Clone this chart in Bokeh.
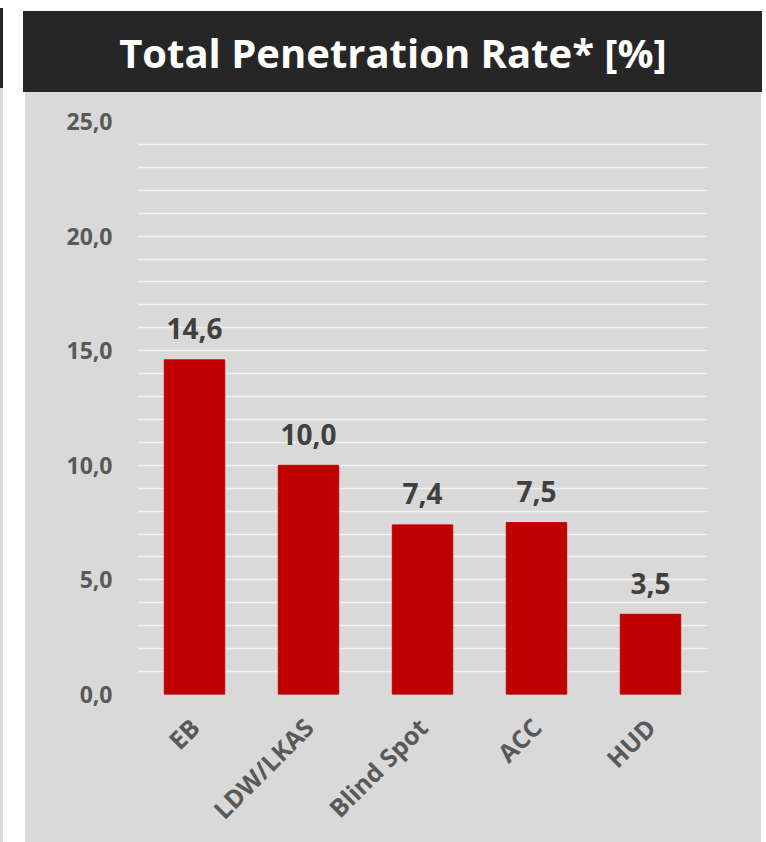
import math
from bokeh.plotting import figure
from bokeh.models import ColumnDataSource, FixedTicker, Range1d, Div
from bokeh.layouts import row, column
from bokeh.core.properties import value
from bokeh.embed import file_html
from bokeh.resources import INLINE

# ---- data ----
title_text = "Total Penetration Rate* [%]"
categories = ["EB", "LDW/LKAS", "Blind Spot", "ACC", "HUD"]
values = [14.6, 10.0, 7.4, 7.5, 3.5]
value_labels = ["14,6", "10,0", "7,4", "7,5", "3,5"]
y_ticks = [0, 5, 10, 15, 20, 25]
y_tick_labels = ["0,0", "5,0", "10,0", "15,0", "20,0", "25,0"]
grid_ticks = list(range(1, 26))

FONT = "Open Sans"
GRAY = "#d9d9d9"
DARK = "#262626"
RED = "#c00000"
LABEL = "#595959"

# ---- title band ----
tfig = figure(width=739, height=81, x_range=Range1d(0, 1), y_range=Range1d(0, 1),
              toolbar_location=None, output_backend="svg", min_border=0,
              border_fill_color=None, background_fill_color=None,
              outline_line_color=None, margin=(0, 0, 0, 0),
              styles={"background-color": DARK})
tfig.frame_align = False
tfig.axis.visible = False
tfig.grid.visible = False
tfig.text(x=[0.5], y=[0.5], text=[title_text], text_align="center",
          text_baseline="middle", text_color="white", text_font=value(FONT),
          text_font_style="bold", text_font_size="40px")

# ---- chart ----
src = ColumnDataSource(dict(cat=categories, val=values, lab=value_labels))
p = figure(width=736, height=750, x_range=categories, y_range=Range1d(0, 25),
           toolbar_location=None, output_backend="svg",
           min_border_left=112, min_border_right=54, min_border_top=29,
           min_border_bottom=148, border_fill_color=None,
           background_fill_color=None, outline_line_color=None,
           margin=(0, 0, 0, 2), styles={"background-color": GRAY})
p.frame_align = False

p.vbar(x="cat", top="val", width=0.53, source=src, fill_color=RED,
       line_color=RED)
p.text(x="cat", y="val", text="lab", source=src, text_align="center",
       text_baseline="alphabetic", y_offset=-31, text_color="#404040",
       text_font=value(FONT), text_font_style="bold", text_font_size="28px")

p.xgrid.visible = False
p.ygrid.ticker = FixedTicker(ticks=grid_ticks)
p.ygrid.grid_line_color = "#f2f2f2"
p.ygrid.grid_line_width = 1.6

p.yaxis.ticker = FixedTicker(ticks=y_ticks)
p.yaxis.major_label_overrides = {t: s for t, s in zip(y_ticks, y_tick_labels)}
for ax in (p.xaxis, p.yaxis):
    ax.axis_line_color = None
    ax.major_tick_line_color = None
    ax.minor_tick_line_color = None
    ax.major_label_text_color = LABEL
    ax.major_label_text_font = FONT
    ax.major_label_text_font_style = "bold"
p.yaxis.major_label_text_font_size = "23px"
p.xaxis.major_label_text_font_size = "25px"
p.yaxis.major_label_standoff = 19
p.xaxis.major_label_standoff = 22
p.xaxis.major_label_orientation = math.pi / 4

left = Div(text="", width=3, height=842, margin=(0, 0, 0, 0),
           styles={"background": "linear-gradient(to bottom, #ffffff 0px, #ffffff 8px, "
                   "#262626 8px, #262626 88px, #d9d9d9 88px)"})

layout = row(left, column(tfig, p, margin=(11, 0, 0, 20)), margin=(0, 0, 0, 0))

open("out.html", "w").write(file_html(layout, INLINE))
